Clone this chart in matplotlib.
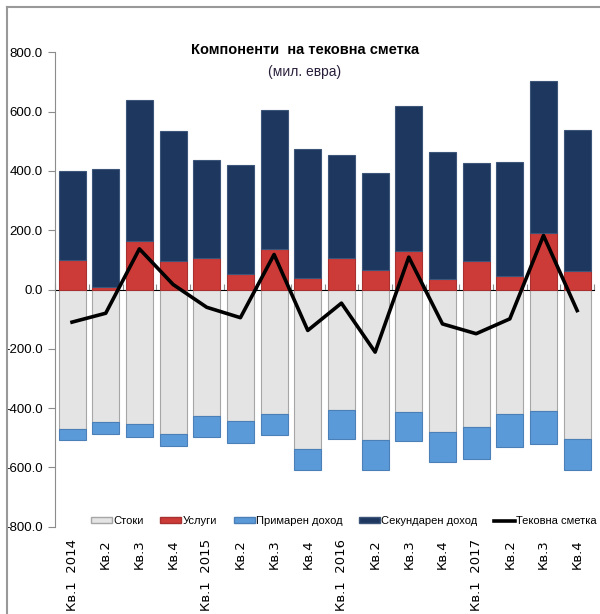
import numpy as np
from matplotlib import pyplot as plt
from matplotlib.lines import Line2D
from matplotlib.patches import Patch

## data
quarters = ['Кв.1  2014', 'Кв.2', 'Кв.3', 'Кв.4',
            'Кв.1  2015', 'Кв.2', 'Кв.3', 'Кв.4',
            'Кв.1  2016', 'Кв.2', 'Кв.3', 'Кв.4',
            'Кв.1  2017', 'Кв.2', 'Кв.3', 'Кв.4']
goods = [-469, -447, -453, -486, -428, -444, -419, -537,
         -405, -509, -413, -481, -462, -419, -411, -505]
services = [100, 10, 162, 95, 106, 53, 138, 38,
            106, 67, 129, 34, 97, 44, 190, 62]
primary = [-40, -39, -45, -40, -70, -73, -73, -73,
           -98, -98, -98, -101, -111, -112, -109, -105]
secondary = [300, 395, 476, 439, 329, 367, 466, 435,
             348, 325, 490, 429, 329, 386, 514, 476]
current = [-110, -80, 137, 17, -60, -95, 118, -138,
           -46, -211, 109, -116, -149, -99, 182, -71]

labels = ['Стоки', 'Услуги', 'Примарен доход', 'Секундарен доход', 'Тековна сметка']

## colours
cGoods = '#e4e4e4'
cServ = '#cc3b38'
cPrim = '#5b9ad8'
cSec = '#1d375e'
cAxis = '#8c8c8c'

narrow = ['Liberation Sans', 'DejaVu Sans']

fig = plt.figure(figsize=(6.0, 6.14), dpi=100)
ax = fig.add_axes([0.092, 0.142, 0.898, 0.773])

x = np.arange(len(quarters))
w = 0.8
goods = np.array(goods)
services = np.array(services)

# negative side: goods from zero, primary income below it
ax.bar(x, goods, w, color=cGoods, edgecolor='#a6a6a6', linewidth=0.8, zorder=2)
ax.bar(x, primary, w, bottom=goods, color=cPrim, edgecolor='#4a7fb8', linewidth=0.8, zorder=2)
# positive side: services from zero, secondary income on top
ax.bar(x, services, w, color=cServ, edgecolor='#a83030', linewidth=0.8, zorder=2)
ax.bar(x, secondary, w, bottom=services, color=cSec, edgecolor='#3d5578', linewidth=0.8, zorder=2)

ax.plot(x, current, color='black', linewidth=2.6, zorder=4)

ax.set_xlim(-0.5, len(quarters) - 0.5)
ax.set_ylim(-800, 800)
ax.set_yticks(np.arange(-800, 801, 200))
ax.set_yticklabels(['%.1f' % v for v in np.arange(-800, 801, 200)],
                   family=narrow, fontsize=9.5)
ax.tick_params(axis='y', direction='out', length=5, color=cAxis, pad=4)

for s in ['top', 'right', 'bottom']:
    ax.spines[s].set_visible(False)
ax.spines['left'].set_color(cAxis)

# x labels at the bottom, rotated
ax.set_xticks(x)
ax.set_xticklabels(quarters, rotation=90, family='DejaVu Sans', fontsize=9.5, va='top')
ax.tick_params(axis='x', length=0, pad=9)

# zero line axis with ticks between the bars
zax = ax.secondary_xaxis(0.5)
zax.set_xticks(np.arange(-0.5, len(quarters), 1.0))
zax.set_xticklabels([])
zax.tick_params(axis='x', direction='out', length=4, color=cAxis)
zax.spines['bottom'].set_color(cAxis)

# title
fig.text(0.508, 0.918, 'Компоненти  на тековна сметка', ha='center', va='center',
         family=narrow, fontweight='bold', fontsize=10.5)
fig.text(0.508, 0.882, '(мил. евра)', ha='center', va='center',
         family=narrow, fontsize=10, color='#2a1f3a')

# legend
handles = [Patch(facecolor=cGoods, edgecolor='#a6a6a6'),
           Patch(facecolor=cServ, edgecolor='#a83030'),
           Patch(facecolor=cPrim, edgecolor='#4a7fb8'),
           Patch(facecolor=cSec, edgecolor='#3d5578'),
           Line2D([0], [0], color='black', linewidth=2.6)]
ax.legend(handles, labels, ncol=5, loc='center', bbox_to_anchor=(0.536, 0.012),
          frameon=False, prop={'family': narrow, 'size': 8},
          handlelength=1.9, handleheight=0.5, handletextpad=0.1, columnspacing=1.5,
          borderpad=0.1)

# outer frame lines (left and top)
fig.add_artist(Line2D([7 / 600, 7 / 600], [0, 1 - 7 / 614], color='#999999', linewidth=1.5))
fig.add_artist(Line2D([7 / 600, 1], [1 - 7 / 614, 1 - 7 / 614], color='#999999', linewidth=1.5))

fig.savefig('out.png', dpi=100)
